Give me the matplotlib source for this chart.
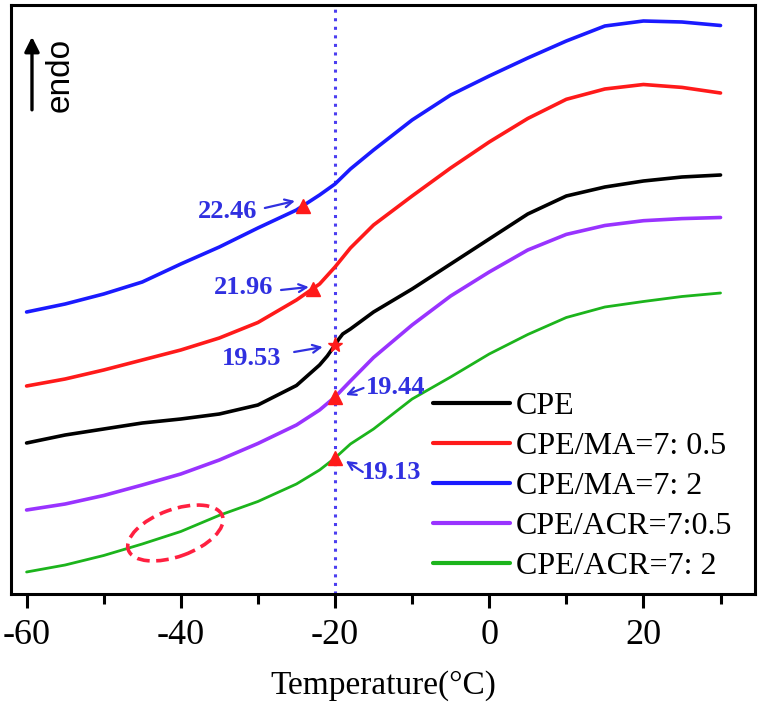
import numpy as np
import matplotlib
matplotlib.use("Agg")
import matplotlib.pyplot as plt
from matplotlib.patches import Ellipse
import matplotlib.transforms as mtransforms

# ---------------- data ----------------
temp = [-60, -55, -50, -45, -40, -35, -30, -25, -22, -20, -18, -15, -10, -5, 0,
        5, 10, 15, 20, 25, 30]
temp_cpe = [-60, -55, -50, -45, -40, -35, -30, -25, -22, -21, -20, -19.5, -19,
            -18, -15, -10, -5, 0, 5, 10, 15, 20, 25, 30]

cpe = [151, 159, 165, 171, 175, 180, 189, 208.5, 229, 238, 249, 255, 260,
       265, 282, 305, 330, 355, 380, 398, 407, 413, 417, 419]
ma_05 = [208, 215, 224, 234, 244, 256, 271.5, 294, 310, 327, 346, 369, 398,
         426, 452, 475.5, 494.7, 505, 509.5, 506.6, 501]
ma_2 = [282, 290, 300, 312, 330, 347, 366, 384, 399, 410, 425, 444, 474, 499,
        518, 536, 553, 568, 573, 572, 568.5]
acr_05 = [84, 90, 98.5, 109, 120, 134, 150.5, 169, 184, 197, 213, 236.5, 269,
          298, 322, 344, 359.6, 368.5, 373.3, 375.4, 376.5]
acr_2 = [22, 29, 38.5, 50, 62.5, 78.7, 92.5, 110, 124, 136, 150, 165, 195, 217,
         240, 259.5, 276.5, 287, 292.5, 297.5, 301]

labels = ["CPE", "CPE/MA=7: 0.5", "CPE/MA=7: 2", "CPE/ACR=7:0.5", "CPE/ACR=7: 2"]
colors = ["#000000", "#ff1a1a", "#1a1aff", "#9933ff", "#1cb41c"]

# Tg markers (temperature positions of the markers on each curve)
tg_temps = [-24.2, -22.9, -20.0, -20.0, -20.0]   # blue, red, black, purple, green
tg_labels = ["22.46", "21.96", "19.53", "19.44", "19.13"]
# annotation text positions and arrow tail / head positions (data coords)
ann_text_xy = [(-33.9, 382), (-31.9, 306), (-30.8, 235), (-12.2, 206), (-12.6, 122)]
ann_tail_xy = [(-29.1, 386), (-27.0, 304), (-25.3, 242), (-16.3, 206), (-16.4, 122)]
ann_head_xy = [(-25.2, 393), (-23.4, 307), (-21.6, 247), (-18.6, 199), (-18.6, 133)]

vline_temp = -20
ellipse_center = (-40.7, 61)

xticks_major = [-60, -40, -20, 0, 20]
xticks_minor = [-50, -30, -10, 10, 30]

# ---------------- figure ----------------
serif = "Liberation Serif"
fig = plt.figure(figsize=(7.63, 7.18), dpi=100)
ax = fig.add_axes([0.01442, 0.17270, 0.97509, 0.82034])
ax.set_xlim(-62.02, 34.47)
ax.set_ylim(0, 589)

series = [(temp_cpe, cpe), (temp, ma_05), (temp, ma_2), (temp, acr_05), (temp, acr_2)]
lws = [2.6, 2.6, 2.6, 2.6, 2.0]
for (t, v), c, lab, lw in zip(series, colors, labels, lws):
    ax.plot(t, v, color=c, lw=lw, label=lab, solid_capstyle="round",
            solid_joinstyle="round", zorder=3)

# vertical dotted line
ax.axvline(vline_temp, color="#4b3ef0", lw=2.2, linestyle=(0, (1, 1.8)), zorder=2)

# markers on curves
order = [2, 1, 0, 3, 4]  # blue, red, black, purple, green
for k, idx in enumerate(order):
    t, v = series[idx]
    yv = np.interp(tg_temps[k], t, v)
    mk = "*" if idx == 0 else "^"
    ms = 11 if idx == 0 else 10
    ax.plot([tg_temps[k]], [yv], marker=mk, color="#ff1a1a", ms=ms, mec="#ff1a1a",
            ls="none", zorder=4)

ann_color = "#3030e0"
for lab, txy, tail, head in zip(tg_labels, ann_text_xy, ann_tail_xy, ann_head_xy):
    ax.text(txy[0], txy[1], lab, color=ann_color, fontsize=19, fontweight="bold",
            family=serif, ha="center", va="center", zorder=5)
    ax.annotate("", xy=head, xytext=tail,
                arrowprops=dict(arrowstyle="->", color=ann_color, lw=1.6,
                                mutation_scale=14, shrinkA=0, shrinkB=0), zorder=5)

# red dashed ellipse (size in pixels, centred in data coords)
trans = mtransforms.Affine2D() + mtransforms.ScaledTranslation(
    ellipse_center[0], ellipse_center[1], ax.transData)
ell = Ellipse((0, 0), 100, 47, angle=20, fill=False, edgecolor="#ff2040",
              lw=2.6, linestyle=(0, (3.5, 1.8)), transform=trans, zorder=5)
ax.add_patch(ell)

# endo arrow and text
ax.annotate("", xy=(0.0282, 0.946), xytext=(0.0282, 0.822), xycoords="axes fraction",
            arrowprops=dict(arrowstyle="-|>", color="black", lw=2.4,
                            mutation_scale=22, shrinkA=0, shrinkB=0))
ax.text(0.066, 0.881, "endo", rotation=90, fontsize=24, family="Liberation Sans",
        ha="center", va="center", transform=ax.transAxes)

# axes styling
for sp in ax.spines.values():
    sp.set_linewidth(2.2)
ax.set_yticks([])
ax.set_xticks(xticks_major)
ax.set_xticks(xticks_minor, minor=True)
ax.set_xticklabels([str(v) for v in xticks_major], fontsize=26, family=serif)
ax.tick_params(axis="x", which="major", direction="out", length=10, width=2.2, pad=8)
ax.tick_params(axis="x", which="minor", direction="out", length=7, width=2.2)
ax.set_xlabel("Temperature(\u00b0C)", fontsize=24, family=serif, labelpad=13)

leg = ax.legend(loc="upper left", bbox_to_anchor=(0.567, 0.343), frameon=False,
                prop={"family": serif, "size": 23}, handlelength=2.4,
                handletextpad=0.2, labelspacing=0.33, borderaxespad=0, borderpad=0)
for h in leg.get_lines():
    h.set_linewidth(3.0)

fig.savefig("out.png", dpi=100)
